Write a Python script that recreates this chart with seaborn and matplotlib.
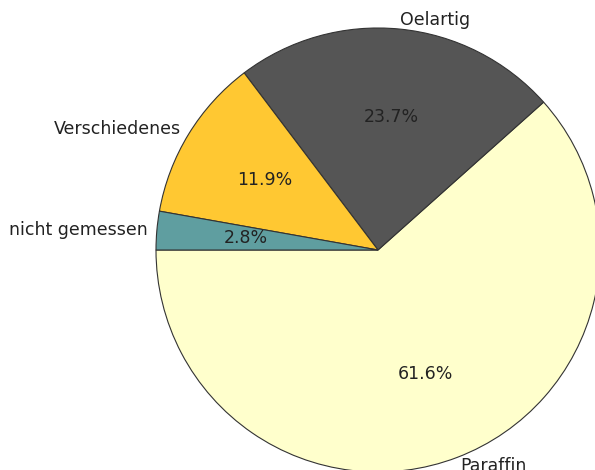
import matplotlib
matplotlib.use('Agg')

import matplotlib.pyplot as plt
import seaborn as sns

# Anteile der Kategorien (in %)
labels = ["Paraffin", "Oelartig", "Verschiedenes", "nicht gemessen"]
values = [61.6, 23.7, 11.9, 2.8]
colors = ["#FFFFCC", "#555555", "#FFC832", "#5F9EA0"]

sns.set_theme(style="white")
plt.rcParams['font.family'] = ['DejaVu Sans']

fig = plt.figure(figsize=(5.95, 4.7), dpi=100)
ax = fig.add_axes([0, 0, 1, 1])

ax.pie(values, labels=labels, colors=colors, autopct="%1.1f%%",
       startangle=180, counterclock=True, labeldistance=1.04, pctdistance=0.6,
       wedgeprops={"edgecolor": "#333333", "linewidth": 0.8},
       textprops={"fontsize": 12.5, "color": "#222222"})

# Kreis liegt so, dass er rechts und unten abgeschnitten ist
r = 222.0
cx, cy = 378.0, 220.0
ax.set_aspect('auto')
ax.set_xlim(-cx / r, (595 - cx) / r)
ax.set_ylim(-cy / r, (470 - cy) / r)
ax.axis('off')

fig.savefig("out.png", dpi=100)
